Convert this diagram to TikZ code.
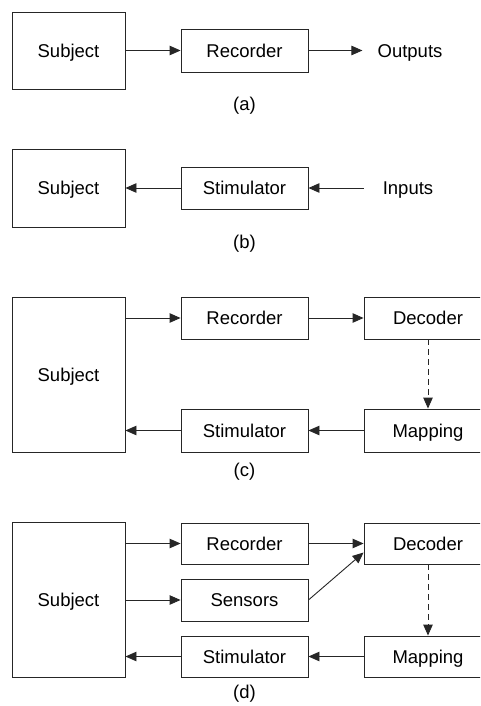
\documentclass[tikz,border=0pt]{standalone}
\usepackage{fontspec}
\setmainfont{Liberation Sans}
\usetikzlibrary{arrows.meta}
\begin{document}
\begin{tikzpicture}[x=1pt,y=-1pt,
  box/.style={draw=black!85,line width=0.9pt,minimum width=127pt,minimum height=42pt,inner sep=0pt,text height=13.3pt,text depth=0pt,font=\fontsize{18.5}{22}\selectfont},
  subj/.style={box,minimum width=113pt},
  lbl/.style={inner sep=0pt,text height=13.3pt,text depth=0pt,font=\fontsize{18.5}{22}\selectfont},
  conn/.style={line width=0.9pt,draw=black!85,-{Triangle[length=11pt,width=9.5pt]}},
  dconn/.style={conn,dash pattern=on 6pt off 4pt}]
\useasboundingbox (0,0) rectangle (480,706);
\clip (0,0) rectangle (480,706);
% (a)
\node[subj,minimum height=77pt] (sa) at (68.5,50.5) {Subject};
\node[box,minimum height=43pt] (ra) at (244.5,50.5) {Recorder};
\node[lbl,inner xsep=15pt] (oa) at (410,50.5) {Outputs};
\node[lbl] (la) at (244.5,104) {(a)};
\draw[conn] (sa.east |- ra.west) -- (ra.west);
\draw[conn] (ra.east) -- (oa.west);
% (b)
\node[subj,minimum height=78pt] (sb) at (68.5,188) {Subject};
\node[box] (tb) at (244.5,188) {Stimulator};
\node[lbl,inner xsep=19pt] (ib) at (408,188) {Inputs};
\node[lbl] (lb) at (244.5,242) {(b)};
\draw[conn] (ib.west) -- (tb.east);
\draw[conn] (tb.west) -- (sb.east |- tb.west);
% (c)
\node[subj,minimum height=155pt] (sc) at (68.5,374.5) {Subject};
\node[box] (rc) at (244.5,318) {Recorder};
\node[box,minimum width=128pt] (dc) at (428,318) {Decoder};
\node[box,minimum height=43pt] (tc) at (244.5,430.5) {Stimulator};
\node[box,minimum width=128pt,minimum height=43pt] (mc) at (428,430.5) {Mapping};
\node[lbl] (lc) at (244.5,470) {(c)};
\draw[conn] (sc.east |- rc.west) -- (rc.west);
\draw[conn] (rc.east) -- (dc.west);
\draw[dconn] (dc.south) -- (mc.north);
\draw[conn] (mc.west) -- (tc.east);
\draw[conn] (tc.west) -- (sc.east |- tc.west);
% (d)
\node[subj,minimum height=155pt] (sd) at (68.5,599.5) {Subject};
\node[box,minimum height=41pt] (rd) at (244.5,543.5) {Recorder};
\node[box] (ed) at (244.5,600) {Sensors};
\node[box,minimum height=41pt] (td) at (244.5,656.5) {Stimulator};
\node[box,minimum width=128pt,minimum height=41pt] (dd) at (428,543.5) {Decoder};
\node[box,minimum width=128pt,minimum height=41pt] (md) at (428,656.5) {Mapping};
\node[lbl] (ld) at (244.5,692) {(d)};
\draw[conn] (sd.east |- rd.west) -- (rd.west);
\draw[conn] (sd.east |- ed.west) -- (ed.west);
\draw[conn] (rd.east) -- (dd.west);
\draw[conn] (ed.east) -- ([yshift=-9pt]dd.west);
\draw[dconn] (dd.south) -- (md.north);
\draw[conn] (md.west) -- (td.east);
\draw[conn] (td.west) -- (sd.east |- td.west);
\end{tikzpicture}
\end{document}
